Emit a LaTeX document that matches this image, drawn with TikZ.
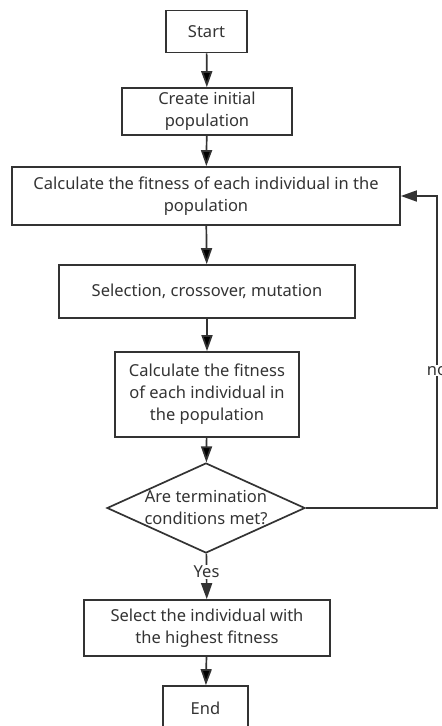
\documentclass[tikz,border=0pt]{standalone}
\usepackage{fontspec}
\setmainfont{Noto Sans}
\usepackage{tikz}
\usetikzlibrary{arrows.meta}
\usetikzlibrary{shapes.geometric}

\definecolor{ink}{HTML}{333333}

\begin{document}
\begin{tikzpicture}[x=1pt,y=-1pt,
    font=\fontsize{16.5}{22}\selectfont,
    stepbox/.style={draw=ink,text=ink,line width=1.7pt,rectangle,align=center,inner sep=0pt},
    test/.style={draw=ink,text=ink,line width=1.7pt,diamond,aspect=2.2,align=center,inner sep=-6pt,
      minimum width=198pt,minimum height=90pt},
    flow/.style={draw=ink,line width=1.7pt,-{Triangle[length=16pt,width=11pt]}},
    lab/.style={fill=white,text=ink,inner sep=1pt}]

  \useasboundingbox (0,0) rectangle (442,726);
  \clip (0,0) rectangle (442,726);

  \node [stepbox,minimum width=81pt,minimum height=42pt]  (start) at (206.5,31.5) {Start};
  \node [stepbox,minimum width=170pt,minimum height=47pt] (init)  at (207,111.5)  {Create initial\\population};
  \node [stepbox,minimum width=388pt,minimum height=58pt] (fit1)  at (206,196)    {Calculate the fitness of each individual in the\\population};
  \node [stepbox,minimum width=296pt,minimum height=53pt] (ops)   at (207,291.5)  {Selection, crossover, mutation};
  \node [stepbox,minimum width=184pt,minimum height=85pt] (fit2)  at (207,394.5)  {Calculate the fitness\\of each individual in\\the population};
  \node [test] (cond) at (206,508) {Are termination\\conditions met?};
  \node [stepbox,minimum width=246pt,minimum height=56pt] (best)  at (207,628)    {Select the individual with\\the highest fitness};
  \node [stepbox,minimum width=85pt,minimum height=44pt]  (end)   at (205.5,708)  {End};

  \coordinate (back) at (437,508);

  \path [flow]
    (start) edge (init)
    (init)  edge (fit1)
    (fit1)  edge (ops)
    (ops)   edge (fit2)
    (fit2)  edge (cond)
    (best)  edge (end);

  \draw [flow] (cond) -- node [lab,pos=0.4] {Yes} (best);

  \draw [flow] (cond.east) -- (back) |- node [lab,pos=0.22] {no} (fit1.east);

\end{tikzpicture}
\end{document}
